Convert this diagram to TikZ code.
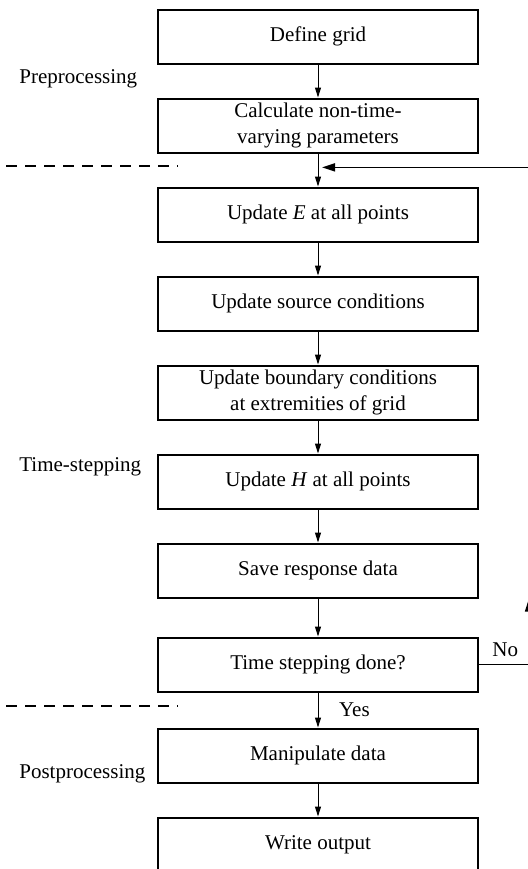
\documentclass[tikz,border=0pt]{standalone}
\usepackage{fontspec}
\setmainfont{Liberation Serif}
\usetikzlibrary{arrows.meta,positioning}

\begin{document}
\begin{tikzpicture}[x=0.5pt, y=-0.5pt, node distance=16.5pt, >={Triangle[length=5pt,width=3pt]},
  every node/.style={font=\fontsize{10.5}{13}\selectfont},
  stepbox/.style={draw, line width=1pt, minimum width=160pt, minimum height=27pt, inner ysep=0.5pt, align=center},
  flow/.style={->, line width=0.5pt},
  fb/.style={line width=0.75pt, -{Triangle[length=6.5pt,width=4pt]}},
  sep/.style={dash pattern=on 5.5pt off 4pt, line width=1pt}]
\useasboundingbox (0,0) rectangle (527,869);

\node[stepbox] (grid) at (318,36.5) {Define grid};
\node[stepbox, below=of grid] (param) {Calculate non-time-\\varying parameters};
\node[stepbox, below=of param] (updE) {Update \textit{E} at all points};
\node[stepbox, below=of updE] (source) {Update source conditions};
\node[stepbox, below=of source] (bound) {Update boundary conditions\\at extremities of grid};
\node[stepbox, below=of bound] (updH) {Update \textit{H} at all points};
\node[stepbox, below=of updH] (save) {Save response data};
\node[stepbox, below=19pt of save] (done) {Time stepping done?};
\node[stepbox, below=17.5pt of done] (manip) {Manipulate data};
\node[stepbox, below=of manip] (write) {Write output};

% phase labels
\node[anchor=west, inner sep=0] (pre) at (19,79) {Preprocessing};
\node[anchor=west, inner sep=0] (time) at (19,467) {Time-stepping};
\node[anchor=west, inner sep=0] (post) at (19,774) {Postprocessing};

% separators
\coordinate (cutA) at (6,166);
\coordinate (cutAend) at (178,166);
\coordinate (cutB) at (6,706);
\coordinate (cutBend) at (178,706);
\draw[sep] (cutA) -- (cutAend);
\draw[sep] (cutB) -- (cutBend);

\draw[flow] (grid) -- (param);
\draw[flow] (param) -- (updE);
\draw[flow] (updE) -- (source);
\draw[flow] (source) -- (bound);
\draw[flow] (bound) -- (updH);
\draw[flow] (updH) -- (save);
\draw[flow] (save) -- (done);
\draw[flow] (done) -- node[right=7pt]{Yes} (manip);
\draw[flow] (manip) -- (write);

% loop back
\coordinate (rim) at (529,0);
\path (param.south) -- coordinate[pos=0.42] (join) (updE.north);
\draw[line width=0.75pt] (done.east) -- node[pos=0, anchor=south west, xshift=3pt]{No} (done.east -| rim);
\draw[fb] (done.east -| rim) -- (rim |- save.south);
\draw[fb] (rim |- save.south) -- (rim |- join) -- ([xshift=2pt]join);
\end{tikzpicture}
\end{document}
